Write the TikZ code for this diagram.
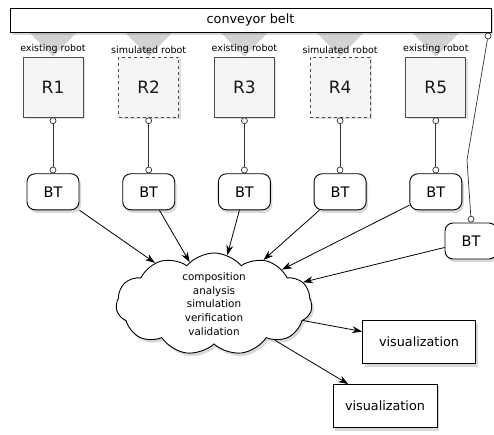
\documentclass[tikz,border=0pt]{standalone}
\usepackage{fontspec}
\setmainfont{DejaVu Sans}
\usepackage{tikz}
\usetikzlibrary{shapes.geometric, shapes.symbols, arrows.meta, positioning, shadows}

\begin{document}
\begin{tikzpicture}[
    x=1pt, y=1pt,
    node distance=35pt and 35pt,
    belt/.style={rectangle, draw, line width=0.7pt, fill=white, minimum width=481pt, minimum height=24pt, font=\fontsize{12.8}{15}\selectfont, drop shadow={opacity=0.3, shadow xshift=2pt, shadow yshift=-3pt}},
    robot/.style={rectangle, draw=gray!60!black, line width=0.7pt, fill=gray!8, minimum size=60pt, font=\fontsize{17}{20}\selectfont, text=gray!20!black, drop shadow={opacity=0.25, shadow xshift=2pt, shadow yshift=-2pt}},
    simrobot/.style={robot, dashed},
    tag/.style={inner sep=0.5pt, font=\fontsize{9.5}{11}\selectfont},
    feed/.style={fill=gray!35},
    bt/.style={rectangle, draw, line width=0.9pt, fill=white, rounded corners=8pt, minimum width=52pt, minimum height=36pt, font=\fontsize{14.5}{17}\selectfont, drop shadow={opacity=0.3, shadow xshift=2pt, shadow yshift=-3pt}},
    port/.style={circle, draw=gray!40!black, line width=0.7pt, fill=white, inner sep=0pt, minimum size=6pt},
    link/.style={draw=gray!40!black, line width=0.7pt},
    arrow/.style={-{Stealth[length=10pt, width=7pt]}, draw=black, line width=0.8pt},
    task/.style={cloud, draw, line width=0.9pt, fill=white, cloud puffs=11, cloud puff arc=100, cloud ignores aspect, inner sep=-10pt, minimum width=196pt, minimum height=102pt, align=center, font=\fontsize{10.4}{13.8}\selectfont, drop shadow={opacity=0.3, shadow xshift=2pt, shadow yshift=-3pt}},
    view/.style={rectangle, draw, line width=0.8pt, fill=white, minimum height=43pt, font=\fontsize{12.8}{15}\selectfont, drop shadow={opacity=0.3, shadow xshift=2pt, shadow yshift=-3pt}}
]
\useasboundingbox (0,0) rectangle (494,434);

% Robots
\node[robot] (r1) at (53,347) {R1};
\node[simrobot, right=of r1] (r2) {R2};
\node[robot, right=of r2] (r3) {R3};
\node[simrobot, right=of r3] (r4) {R4};
\node[robot, right=of r4] (r5) {R5};

% Feeders
\fill[feed] (r1.north) -- ++(-24.5,25) -- ++(49,0) -- cycle;
\fill[feed] (r2.north) -- ++(-24.5,25) -- ++(49,0) -- cycle;
\fill[feed] (r3.north) -- ++(-24.5,25) -- ++(49,0) -- cycle;
\fill[feed] (r4.north) -- ++(-24.5,25) -- ++(49,0) -- cycle;
\fill[feed] (r5.north) -- ++(-24.5,25) -- ++(49,0) -- cycle;

% Conveyor
\node[belt] (belt) at (250.5,414) {conveyor belt};

% Robot kinds
\node[tag, above=2pt of r1] (k1) {existing robot};
\node[tag, above=2pt of r2] (k2) {simulated robot};
\node[tag, above=2pt of r3] (k3) {existing robot};
\node[tag, above=2pt of r4] (k4) {simulated robot};
\node[tag, above=2pt of r5] (k5) {existing robot};

% Behaviour trees
\node[bt, below=56pt of r1] (bt1) {BT};
\node[bt, below=56pt of r2] (bt2) {BT};
\node[bt, below=56pt of r3] (bt3) {BT};
\node[bt, below=56pt of r4] (bt4) {BT};
\node[bt, below=56pt of r5] (bt5) {BT};
\node[bt] (bt6) at (471,193) {BT};

% Ports
\node[port, below=0pt of r1] (p1a) {};
\node[port, below=0pt of r2] (p2a) {};
\node[port, below=0pt of r3] (p3a) {};
\node[port, below=0pt of r4] (p4a) {};
\node[port, below=0pt of r5] (p5a) {};
\node[port, above=0pt of bt1] (p1b) {};
\node[port, above=0pt of bt2] (p2b) {};
\node[port, above=0pt of bt3] (p3b) {};
\node[port, above=0pt of bt4] (p4b) {};
\node[port, above=0pt of bt5] (p5b) {};
\node[port, above=0pt of bt6] (p6b) {};
\node[port] (pc) at (488,398) {};
\coordinate (bend) at (467,274);

% Analysis
\node[task] (tasks) at (214,130) {composition\\analysis\\simulation\\verification\\validation};

% Outputs
\node[view, minimum width=113pt] (vis1) at (419,92) {visualization};
\node[view, minimum width=104pt] (vis2) at (385,28) {visualization};

% Links
\draw[link] (p1a) -- (p1b);
\draw[link] (p2a) -- (p2b);
\draw[link] (p3a) -- (p3b);
\draw[link] (p4a) -- (p4b);
\draw[link] (p5a) -- (p5b);
\draw[link] (pc) -- (bend) -- (p6b);

% Arrows
\draw[arrow] (bt1) -- (tasks);
\draw[arrow] (bt2) -- (tasks);
\draw[arrow] (bt3) -- (tasks);
\draw[arrow] (bt4) -- (tasks);
\draw[arrow] (bt5) -- (tasks);
\draw[arrow] (bt6) -- (tasks);
\draw[arrow] (tasks) -- (vis1);
\draw[arrow] (tasks) -- (vis2);

\end{tikzpicture}
\end{document}
